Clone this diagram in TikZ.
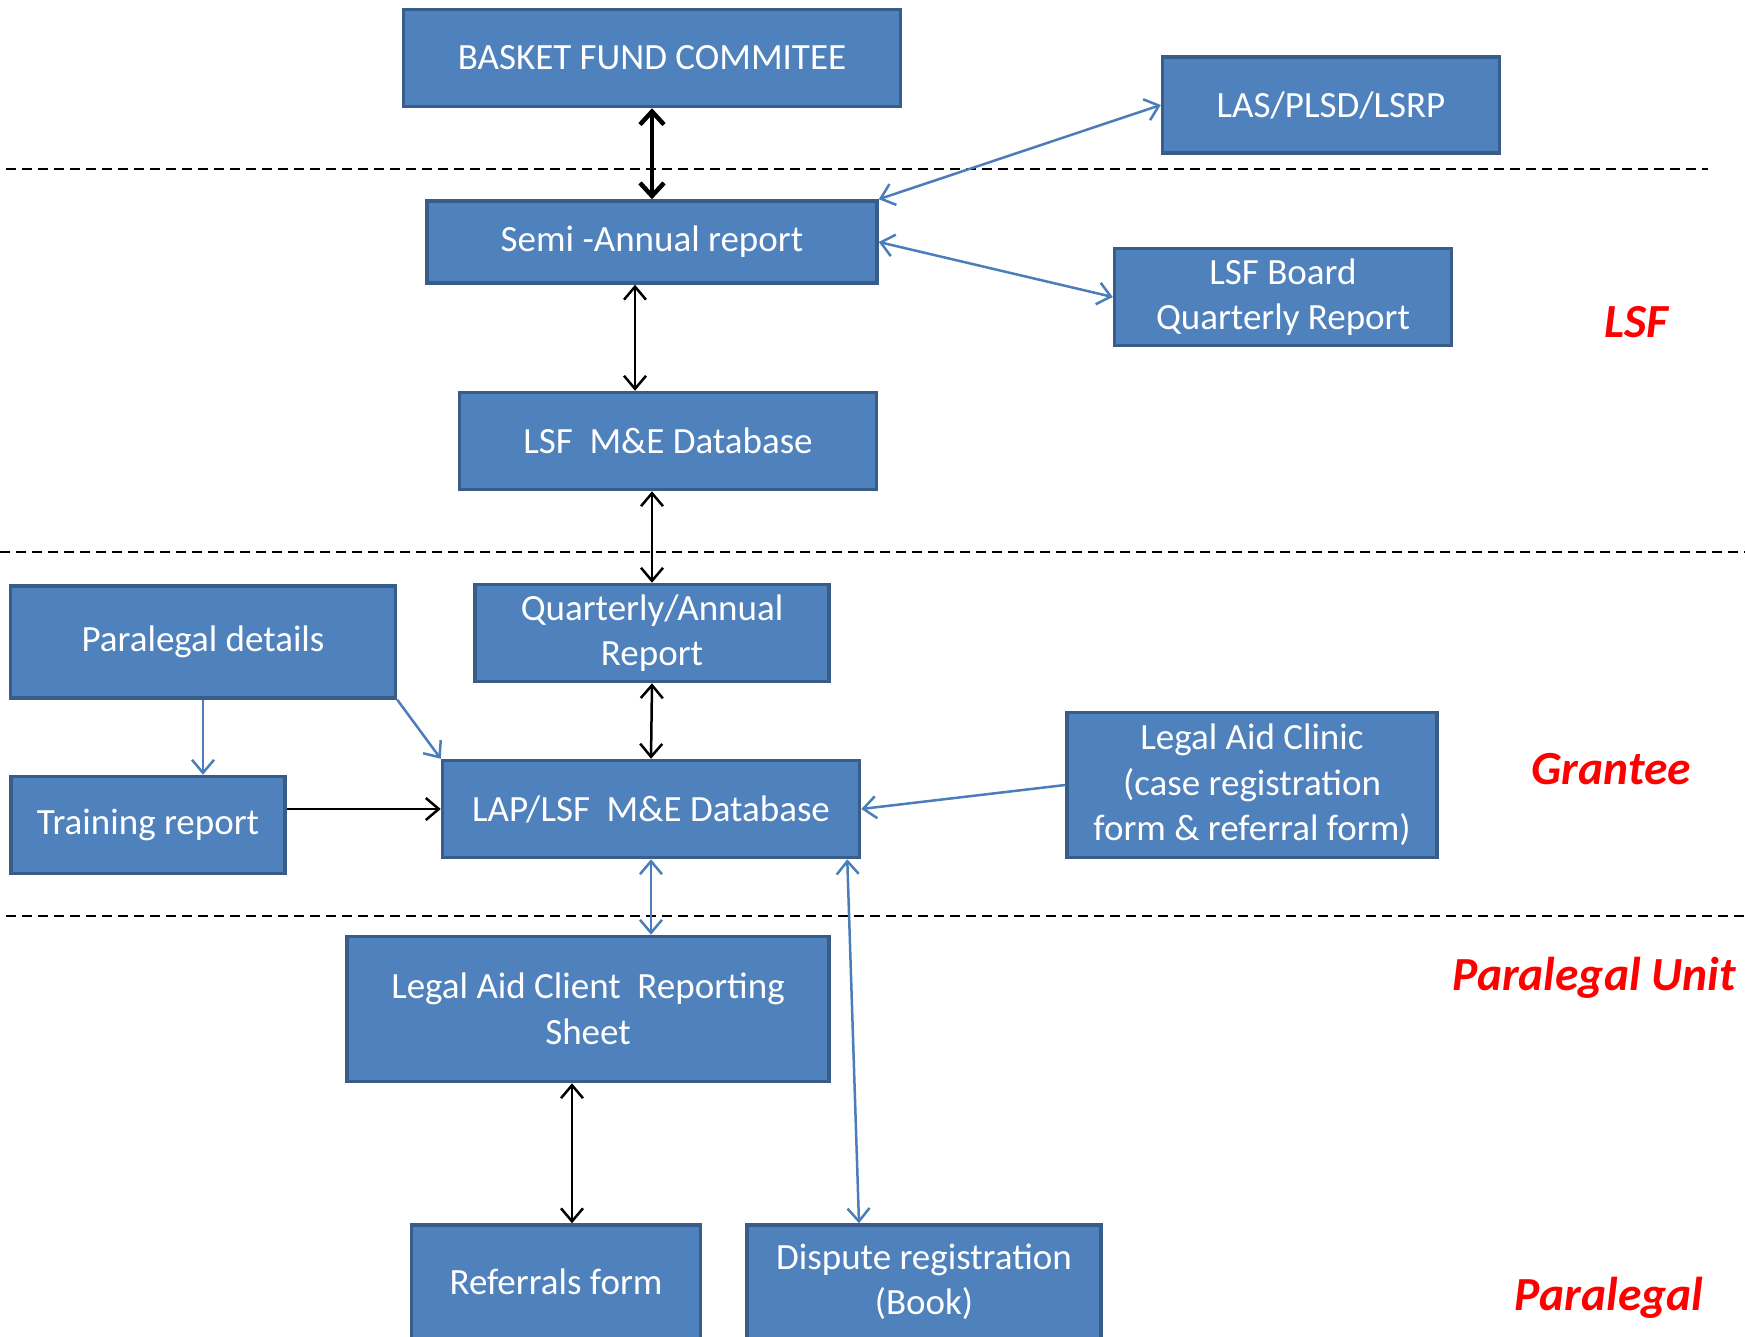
\documentclass[tikz,border=0pt]{standalone}
\usepackage{fontspec}
\setmainfont{Carlito}
\usetikzlibrary{arrows.meta}
\definecolor{boxfill}{RGB}{79,129,189}
\definecolor{boxline}{RGB}{56,93,138}
\definecolor{linkblue}{RGB}{74,126,187}

\begin{document}
\begin{tikzpicture}[x=1pt,y=-1pt,
  box/.style={draw=boxline, fill=boxfill, line width=3.5pt, text=white, align=center, inner sep=0pt, font=\fontsize{37}{45.5}\selectfont},
  blk/.style={line width=2.5pt, {Straight Barb[length=13pt,width=22pt]}-{Straight Barb[length=13pt,width=22pt]}},
  thick blk/.style={line width=4.5pt, {Straight Barb[length=13pt,width=24pt]}-{Straight Barb[length=13pt,width=24pt]}},
  blu/.style={line width=2.5pt, draw=linkblue, {Straight Barb[length=13pt,width=22pt]}-{Straight Barb[length=13pt,width=22pt]}},
  to blu/.style={line width=2.5pt, draw=linkblue, -{Straight Barb[length=13pt,width=22pt]}},
  to blk/.style={line width=2.5pt, -{Straight Barb[length=13pt,width=22pt]}},
  sep/.style={line width=2pt, dash pattern=on 10pt off 6pt},
  zone/.style={text=red, font=\fontsize{47.5}{52}\selectfont\bfseries\itshape}]
\useasboundingbox (0,0) rectangle (1745,1337);

\draw[sep] (6,169) -- (1708,169);
\draw[sep] (0,552) -- (1745,552);
\draw[sep] (6,916) -- (1745,916);

\node[box, minimum width=497pt, minimum height=97pt] (basket) at (652,58) {BASKET FUND COMMITEE};
\node[box, minimum width=450pt, minimum height=82pt] (semi) at (652,242) {Semi -Annual report};
\node[box, minimum width=337pt, minimum height=96pt] (las) at (1331,105) {LAS/PLSD/LSRP};
\node[box, minimum width=337pt, minimum height=97pt] (board) at (1283,297) {LSF Board\\Quarterly Report};
\node[box, minimum width=417pt, minimum height=97pt] (lsfdb) at (668,441) {LSF\ \ M\&E Database};
\node[box, minimum width=354pt, minimum height=97pt] (qar) at (652,633) {Quarterly/Annual\\Report};
\node[box, minimum width=385pt, minimum height=112pt] (pdet) at (203,642) {Paralegal details};
\node[box, minimum width=274pt, minimum height=97pt] (train) at (148,825) {Training report};
\node[box, minimum width=417pt, minimum height=97pt] (lap) at (651,809) {LAP/LSF\ \ M\&E Database};
\node[box, minimum width=370pt, minimum height=145pt] (clinic) at (1252,785) {Legal Aid Clinic\\(case registration\\form \& referral form)};
\node[box, minimum width=482pt, minimum height=145pt] (client) at (588,1009) {Legal Aid Client\ \ Reporting\\Sheet};
\node[box, minimum width=289pt, minimum height=114pt] (refs) at (556,1282) {Referrals form};
\node[box, minimum width=354pt, minimum height=114pt] (disp) at (924,1282) {Dispute registration\\(Book)};

\node[zone] (lsf) at (1636,322) {LSF};
\node[zone] (grantee) at (1611,769) {Grantee};
\node[zone] (punit) at (1594,978) {Paralegal Unit};
\node[zone] (para) at (1609,1298) {Paralegal};

\draw[thick blk] (basket.south) -- (semi.north);
\draw[blk] ([xshift=-17pt]semi.south) -- ([xshift=-17pt]semi.south |- lsfdb.north);
\draw[blk] (qar.north |- lsfdb.south) -- (qar.north);
\draw[blk] (qar.south) -- (lap.north);
\draw[blu] (semi.north east) -- (las.west);
\draw[blu] (semi.east) -- (board.west);
\draw[to blu] (pdet.south) -- (pdet.south |- train.north);
\draw[to blu] (pdet.south east) -- (lap.north west);
\draw[to blk] (lap.west -| train.east) -- (lap.west);
\draw[to blu] (clinic.west) -- (lap.east);
\draw[blu] (lap.south) -- (lap.south |- client.north);
\draw[blu] ([xshift=-14pt]lap.south east) -- ([xshift=-65pt]disp.north);
\draw[blk] ([xshift=-16pt]client.south) -- ([xshift=-16pt]client.south |- refs.north);
\end{tikzpicture}
\end{document}
